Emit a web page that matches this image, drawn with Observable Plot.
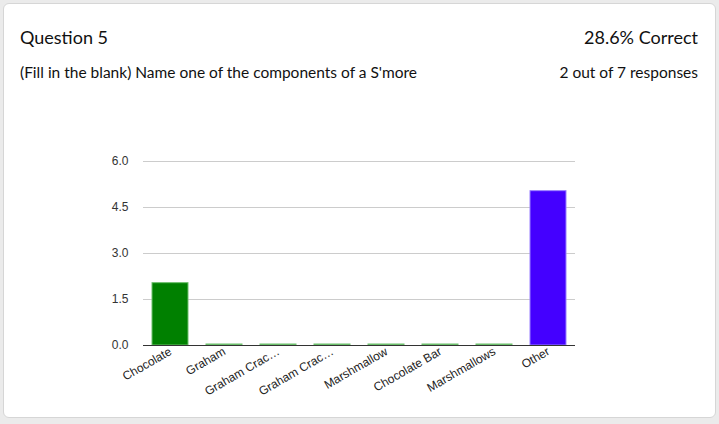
<!DOCTYPE html>
<html>
<head>
<meta charset="utf-8">
<script src="https://cdn.jsdelivr.net/npm/d3@7"></script>
<script src="https://cdn.jsdelivr.net/npm/@observablehq/plot@0.6"></script>
<style>
  html, body { margin: 0; padding: 0; background: #ebebeb; width: 719px; height: 424px; overflow: hidden; }
  #card { position: absolute; left: 3px; top: 3px; width: 711px; height: 413px; background: #fff;
          border: 1px solid #d6d6d6; border-radius: 6px; }
  .hdr { position: absolute; font-family: Lato, "Open Sans", sans-serif; color: #111; white-space: nowrap; }
  #title { left: 16px; top: 22px; font-size: 18px; }
  #score { right: 17px; top: 22px; font-size: 18px; }
  #question { left: 16px; top: 59px; font-size: 15.5px; }
  #count { right: 17px; top: 59px; font-size: 15.5px; }
  #chart { position: absolute; left: 0; top: 150px; }
</style>
</head>
<body>
<div id="card">
  <div class="hdr" id="title">Question 5</div>
  <div class="hdr" id="score">28.6% Correct</div>
  <div class="hdr" id="question">(Fill in the blank) Name one of the components of a S'more</div>
  <div class="hdr" id="count">2 out of 7 responses</div>
</div>
<div id="chart"></div>
<script>
const categories = ["Chocolate", "Graham", "Graham Cracker", "Graham Crackers", "Marshmallow", "Chocolate Bar", "Marshmallows", "Other"];
const tickLabels = ["Chocolate", "Graham", "Graham Crac…", "Graham Crac…", "Marshmallow", "Chocolate Bar", "Marshmallows", "Other"];
const counts = [2, 0, 0, 0, 0, 0, 0, 5];
const correct = [true, true, true, true, true, true, true, false];
const yTicks = [0, 1.5, 3, 4.5, 6];

const data = categories.map((c, i) => ({cat: c, label: tickLabels[i], value: counts[i], ok: correct[i]}));
const labelOf = new Map(data.map(d => [d.cat, d.label]));

const chart = Plot.plot({
  width: 719,
  height: 255,
  marginLeft: 143,
  marginRight: 144,
  marginTop: 11,
  marginBottom: 60,
  style: {fontFamily: "Liberation Sans, Arial, sans-serif", fontSize: "12px", color: "#222", background: "transparent", overflow: "visible"},
  x: {domain: categories, paddingInner: 1/3, paddingOuter: 1/6},
  y: {domain: [0, 6]},
  marks: [
    Plot.gridY(yTicks, {stroke: "#cccccc", strokeOpacity: 1}),
    Plot.axisY(yTicks, {tickSize: 0, tickPadding: 15, tickFormat: d3.format(".1f"), fontSize: 12, fill: "#333", label: null}),
    Plot.barY(data, {x: "cat", y: "value", insetTop: -1,
      fill: d => d.ok ? "#008000" : "#4400ff",
      stroke: d => d.ok ? "#6cbf6c" : "#9a80ff", strokeWidth: 1}),
    Plot.ruleY([0], {stroke: "#333"}),
    Plot.axisX({tickSize: 0, tickPadding: 5, tickRotate: -30, tickFormat: c => labelOf.get(c), fontSize: 12, fill: "#222", label: null, textAnchor: "end", dx: 0})
  ]
});
document.getElementById("chart").appendChild(chart);
</script>
</body>
</html>
